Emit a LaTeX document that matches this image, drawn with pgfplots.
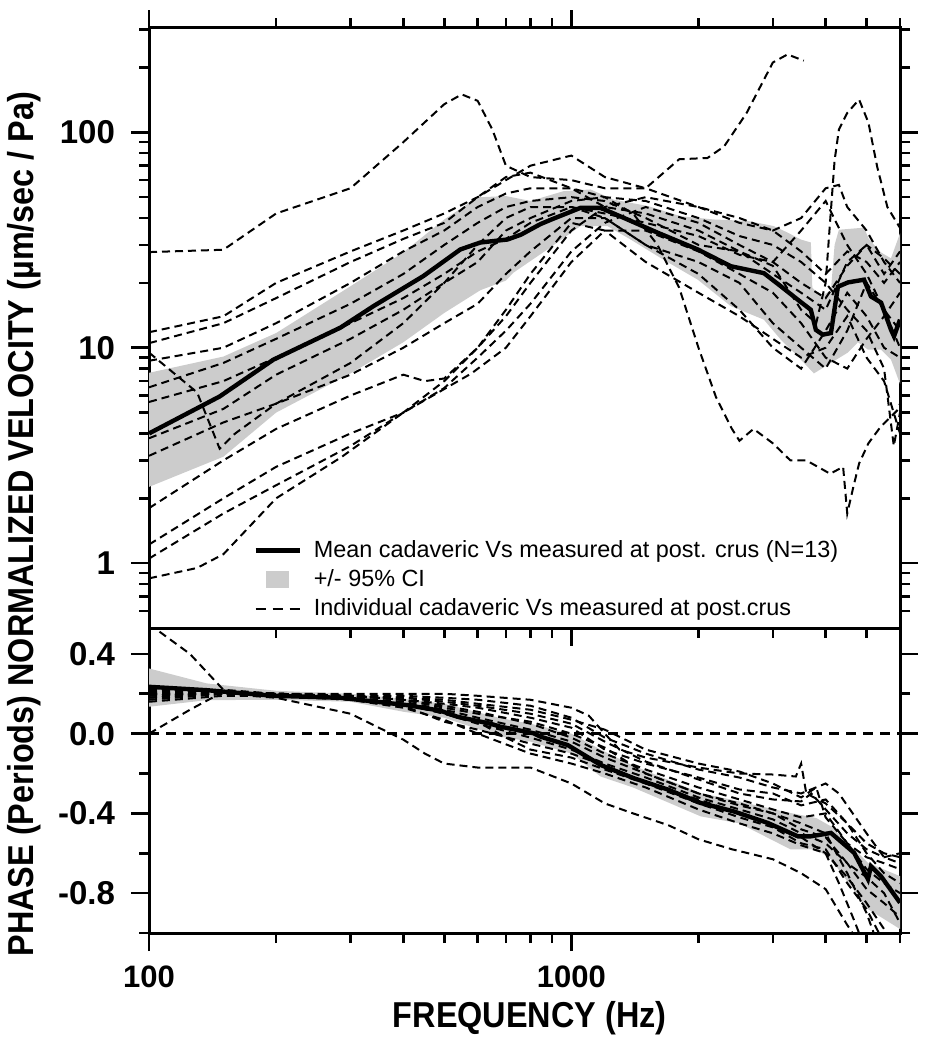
\documentclass[border=0pt]{standalone}
\usepackage{pgfplots}
\pgfplotsset{compat=1.18}
\usepackage{fontspec}
\setmainfont{Liberation Sans}
\newfontfamily\condfont[FakeStretch=0.9]{Liberation Sans}
\definecolor{cigray}{RGB}{204,204,204}

\pgfplotsset{
  indiv/.style={black, line width=1pt, dash pattern=on 4pt off 2.5pt, forget plot},
  meanline/.style={black, line width=2.2pt, forget plot},
  ciband/.style={fill=cigray, draw=none, forget plot},
  myaxis/.style={
    scale only axis, width=375.5pt,
    xmin=100, xmax=6000,
    axis line style={line width=1.5pt},
    every tick/.style={black, line width=1.3pt},
    major tick length=9pt, minor tick length=5pt,
    tick align=outside,
    xtick={100,1000},
    minor xtick={200,300,400,500,600,700,800,900,2000,3000,4000,5000,6000},
    ytick pos=both,
    yticklabel style={font=\fontsize{16.5}{19}\selectfont\bfseries, xshift=-4.5pt},
    xticklabel style={font=\fontsize{15.5}{18}\selectfont\bfseries, yshift=-4pt},
    label style={font=\fontsize{18}{21}\selectfont\condfont\bfseries},
  },
}

\begin{document}
\begin{tikzpicture}
% ---------------- top panel: velocity magnitude ----------------
\begin{axis}[myaxis, xmode=log, ymode=log, name=top, at={(0,0)}, anchor=south west, height=300pt,
  ymin=0.5, ymax=305,
  xtick pos=both, xticklabels={,},
  ytick={1,10,100}, yticklabels={1,10,100},
  minor ytick={0.6,0.7,0.8,0.9,2,3,4,5,6,7,8,9,20,30,40,50,60,70,80,90,200,300},
  ylabel={PHASE (Periods) NORMALIZED VELOCITY (\textmu m/sec / Pa)},
  ylabel style={at={(axis description cs:-0.1664,0.1733)}, anchor=center},
  legend cell align=left,
  legend style={at={(axis description cs:0.1385,0.0125)}, anchor=south west,
    draw=none, fill=none, inner sep=0pt, row sep=3pt, column sep=6pt,
    font=\fontsize{11.7}{14}\selectfont,
    nodes={inner sep=0pt, text height=9pt, text depth=2.5pt}},
]
\addlegendimage{legend image code/.code={\draw[black, line width=2.2pt] (0pt,0pt) -- (22pt,0pt);}}
\addlegendentry{Mean cadaveric Vs measured at post. crus (N=13)}
\addlegendimage{legend image code/.code={\fill[cigray] (5.5pt,-4pt) rectangle (16.5pt,4pt);}}
\addlegendentry{+/- 95\% CI}
\addlegendimage{legend image code/.code={\draw[black, line width=0.9pt, dash pattern=on 5pt off 3.5pt] (0pt,0pt) -- (22pt,0pt);}}
\addlegendentry{Individual cadaveric Vs measured at post.crus}

% CI band
\addplot[ciband] coordinates {
 (100,7.65) (150,9.1) (200,11.7) (300,19.3) (400,27.7) (500,39.4) (600,49.9) (700,50.6) (800,48.0) (958,53.3) (1110,54.3) (1259,48.7) (1516,45.5) (1815,40.8) (2174,39.4) (2616,38.8) (3016,36.7) (3255,34.2) (3494,31.8) (3691,30.8) (3720,19) (3898,17.3) (4117,18.5) (4200,30) (4300,35.3) (4929,36.1) (5061,32) (5408,27.7) (5712,26) (6000,34)
 (6000,6.8) (5712,8.8) (5408,9.8) (5038,9.8) (4770,10.6) (4516,9.5) (4117,8.5) (3752,7.6) (3439,9.1) (3133,10.9) (2856,13.5) (2385,15.6) (1992,20.7) (1654,25.6) (1381,31.8) (1218,36.7) (1051,36.7) (878,28.6) (729,22.3) (700,20.5) (609,18.5) (500,14.5) (400,10.6) (300,7.6) (200,5.0) (150,3.12) (100,2.26)
} --cycle;

% individual curves
\addplot[indiv] coordinates {(100,27.8) (150,28.5) (200,42) (300,55) (400,90) (500,135) (550,150) (600,140) (650,103) (700,70) (800,62) (1000,60) (1200,55) (1500,55) (2000,45) (2500,38) (3000,35) (3500,40) (4000,55) (4300,57) (4500,45) (5000,35) (5500,25) (6000,20)};
\addplot[indiv] coordinates {(100,11.8) (150,14) (200,20) (300,28) (400,35) (500,42) (600,50) (700,60) (800,70) (1000,78) (1200,62) (1500,55) (1800,75) (2100,76) (2300,86) (2600,123) (3000,211) (3250,230) (3550,215)};
\addplot[indiv] coordinates {(100,10.5) (150,13) (200,17) (300,25) (400,32) (500,38) (600,50) (700,62) (800,65) (1000,55) (1200,45) (1500,42) (2000,35) (2500,28) (3000,24) (3500,15) (3800,13) (4000,20) (4100,39) (4200,74) (4300,103) (4500,123) (4800,142) (5050,111) (5300,69) (5600,45) (6000,36)};
\addplot[indiv] coordinates {(100,8.7) (150,10) (200,13) (300,20) (400,28) (500,35) (600,45) (700,52) (800,55) (1000,55) (1200,50) (1400,42) (1600,30) (1800,19) (2000,10) (2200,5.9) (2400,4.2) (2500,3.7) (2700,4.2) (3000,3.6) (3300,3.0) (3600,3.0) (4100,2.6) (4400,2.8) (4500,1.7) (4650,2.25) (4800,2.9) (5050,3.6) (5400,4.3) (5900,5.1) (6000,5.5)};
\addplot[indiv] coordinates {(100,9.5) (130,6.2) (147,3.4) (160,4.0) (200,5.5) (300,8.5) (400,13) (500,20) (600,30) (700,40) (800,45) (1000,45) (1200,40) (1500,30) (2000,25) (2500,20) (3000,13) (3500,10) (4000,8) (4500,12) (5000,20) (5500,15) (6000,10)};
\addplot[indiv] coordinates {(100,6.55) (150,8.5) (200,11) (300,16) (400,22) (500,30) (600,38) (700,45) (800,48) (1000,50) (1200,48) (1500,40) (2000,30) (2500,28) (3000,22) (3500,18) (4000,15) (4500,25) (5000,30) (5500,22) (6000,28)};
\addplot[indiv] coordinates {(100,5.6) (150,7) (200,9) (300,13) (400,17) (500,22) (600,28) (700,32) (800,38) (1000,45) (1200,42) (1500,38) (2000,33) (2500,27) (3000,25) (3500,35) (4000,48) (4500,30) (5000,22) (5500,15) (6000,12)};
\addplot[indiv] coordinates {(100,3.15) (150,4.5) (200,5.5) (300,7.5) (400,10) (500,13) (600,16) (700,22) (800,28) (1000,40) (1200,40) (1500,30) (2000,22) (2500,15) (3000,10) (3500,8) (4000,12) (4500,18) (5000,14) (5500,10) (6000,9)};
\addplot[indiv] coordinates {(100,1.8) (150,3.0) (200,4.2) (300,6) (400,7.5) (450,7.0) (500,7.2) (600,10) (700,15) (800,22) (1000,38) (1200,35) (1500,25) (2000,18) (2500,14) (3000,11) (3500,9) (4000,10) (4500,14) (5000,9) (5500,7) (6000,4)};
\addplot[indiv] coordinates {(100,1.22) (150,2.0) (200,2.8) (300,4.0) (400,5.0) (500,7) (600,10) (700,14) (800,20) (1000,35) (1200,45) (1500,50) (2000,45) (2500,40) (3000,35) (3500,28) (4000,22) (4500,28) (5000,25) (5500,20) (6000,25)};
\addplot[indiv] coordinates {(100,1.05) (150,1.7) (200,2.3) (300,3.5) (400,5) (500,6.5) (600,9) (700,12) (800,16) (1000,28) (1200,38) (1500,45) (2000,38) (2500,30) (3000,25) (3500,20) (4000,17) (4500,24) (5000,30) (5500,26) (6000,22)};
\addplot[indiv] coordinates {(100,0.85) (130,0.95) (150,1.1) (200,2.0) (285,3.1) (400,5.0) (580,7.6) (700,10) (800,14) (1000,25) (1200,35) (1500,35) (2000,28) (2500,22) (3000,18) (3500,13) (4000,9) (4500,8) (5000,11) (5500,14) (6000,18)};
\addplot[indiv] coordinates {(100,3.8) (150,5.2) (200,7.5) (300,11) (400,15) (500,20) (600,25) (700,35) (800,40) (1000,48) (1200,50) (1500,48) (2000,40) (2500,33) (3000,30) (3500,25) (4000,20) (4500,15) (5000,12) (5500,8) (5800,3.5) (6000,5)};

% mean
\addplot[meanline] coordinates {
 (100,4.0) (147,5.94) (197,8.8) (284,12.4) (340,15.6) (446,21.5) (546,28.6) (609,30.8) (706,31.8) (760,33.5) (845,37.5) (900,39.5) (1051,44.6) (1173,44.6) (1330,40.1) (1601,34.2) (1992,28.6) (2385,23.9) (2856,22.2) (3133,19.3) (3438,16.7) (3690,15.0) (3793,12.1) (3940,11.5) (4117,11.7) (4276,19.2) (4517,20.1) (4931,20.7) (5121,17.3) (5411,16.2) (5714,12.1) (5806,11.3) (6000,13.5)};
\end{axis}

% ---------------- bottom panel: phase ----------------
\begin{axis}[myaxis, xmode=log, name=bot, at={(0,0)}, anchor=north west, height=152.5pt,
  ymin=-1.0, ymax=0.53,
  xtick pos=left, xticklabels={100,1000},
  ytick={-0.8,-0.4,0,0.4}, yticklabels={-0.8,-0.4,0.0,0.4},
  minor ytick={-1,-0.6,-0.2,0.2},
  xlabel={FREQUENCY (Hz)},
  xlabel style={at={(axis description cs:0.507,-0.279)}, anchor=center},
]
\addplot[ciband] coordinates {
 (100,0.327) (137,0.252) (200,0.215) (300,0.2) (400,0.175) (500,0.15) (679,0.078) (800,0.05) (1000,0.0) (1173,-0.08) (1400,-0.16) (2025,-0.298) (2500,-0.34) (3300,-0.398) (3800,-0.423) (4117,-0.465) (5038,-0.648) (6000,-0.715)
 (6000,-0.98) (5038,-0.88) (4117,-0.63) (3800,-0.58) (3300,-0.58) (2500,-0.45) (2025,-0.415) (1400,-0.27) (1173,-0.215) (1000,-0.1) (800,-0.04) (679,-0.015) (500,0.08) (400,0.11) (300,0.16) (200,0.17) (137,0.168) (100,0.135)
} --cycle;

\addplot[black, line width=1.4pt, dash pattern=on 5pt off 3.5pt, forget plot] coordinates {(100,0) (6000,0)};

\addplot[indiv] coordinates {(100,0.18) (150,0.21) (200,0.2) (300,0.2) (400,0.2) (500,0.2) (600,0.19) (800,0.17) (1000,0.13) (1100,0.09) (1200,0.0) (1300,-0.08) (1500,-0.12) (2000,-0.17) (2500,-0.2) (3000,-0.205) (3400,-0.215) (3500,-0.15) (3600,-0.3) (4000,-0.35) (4500,-0.45) (5000,-0.55) (5500,-0.6) (6000,-0.62)};
\addplot[indiv] coordinates {(100,0.55) (125,0.4) (150,0.22) (200,0.2) (300,0.19) (400,0.19) (500,0.18) (600,0.17) (800,0.14) (1000,0.08) (1200,-0.02) (1500,-0.1) (2000,-0.18) (2500,-0.22) (3000,-0.27) (3500,-0.3) (4000,-0.25) (4300,-0.3) (5000,-0.5) (5500,-0.62) (6000,-0.65)};
\addplot[indiv] coordinates {(100,0.0) (125,0.12) (150,0.21) (200,0.2) (300,0.19) (400,0.17) (500,0.15) (600,0.13) (800,0.08) (1000,0.03) (1200,-0.08) (1500,-0.15) (2000,-0.22) (2500,-0.28) (3000,-0.3) (3500,-0.36) (4000,-0.33) (4500,-0.45) (5000,-0.6) (5500,-0.7) (6000,-0.75)};
\addplot[indiv] coordinates {(100,0.2) (150,0.2) (200,0.18) (300,0.1) (350,0.03) (400,-0.03) (450,-0.1) (500,-0.15) (600,-0.17) (700,-0.17) (800,-0.17) (1000,-0.25) (1200,-0.35) (1400,-0.4) (1700,-0.46) (2000,-0.53) (2400,-0.58) (3000,-0.63) (3500,-0.7) (4000,-0.78) (4500,-0.96) (4800,-1.05)};
\addplot[indiv] coordinates {(100,0.17) (150,0.2) (200,0.19) (300,0.17) (400,0.14) (500,0.06) (600,0.02) (800,-0.05) (1000,-0.1) (1200,-0.16) (1500,-0.25) (2000,-0.35) (2500,-0.42) (3000,-0.47) (3500,-0.55) (4000,-0.58) (4500,-0.75) (5000,-0.88) (5500,-1.05)};
\addplot[indiv] coordinates {(100,0.19) (150,0.2) (200,0.19) (300,0.18) (400,0.16) (500,0.12) (600,0.08) (800,0.02) (1000,-0.04) (1200,-0.12) (1500,-0.2) (2000,-0.3) (2500,-0.36) (3000,-0.4) (3500,-0.45) (4000,-0.5) (4500,-0.7) (5000,-0.9) (5300,-1.05)};
\addplot[indiv] coordinates {(100,0.2) (150,0.2) (200,0.2) (300,0.19) (400,0.17) (500,0.14) (600,0.11) (800,0.05) (1000,-0.02) (1200,-0.1) (1500,-0.18) (2000,-0.27) (2500,-0.33) (3000,-0.38) (3500,-0.42) (4000,-0.4) (4500,-0.55) (5000,-0.62) (5500,-0.65) (6000,-0.68)};
\addplot[indiv] coordinates {(100,0.16) (150,0.19) (200,0.19) (300,0.18) (400,0.15) (500,0.1) (600,0.05) (800,-0.02) (1000,-0.08) (1200,-0.15) (1500,-0.22) (2000,-0.32) (2500,-0.38) (3000,-0.43) (3500,-0.5) (4000,-0.55) (4500,-0.65) (5000,-0.78) (5500,-0.85) (6000,-0.92)};
\addplot[indiv] coordinates {(100,0.18) (150,0.2) (200,0.19) (300,0.17) (400,0.13) (500,0.07) (600,0.0) (800,-0.1) (1000,-0.15) (1200,-0.2) (1500,-0.27) (2000,-0.38) (2500,-0.45) (3000,-0.5) (3500,-0.56) (4000,-0.6) (4300,-0.75) (4700,-0.95) (4900,-1.05)};
\addplot[indiv] coordinates {(100,0.2) (150,0.2) (200,0.2) (300,0.19) (400,0.18) (500,0.16) (600,0.14) (800,0.1) (1000,0.05) (1200,-0.04) (1500,-0.14) (2000,-0.23) (2500,-0.3) (3000,-0.33) (3500,-0.34) (3700,-0.3) (4000,-0.38) (4500,-0.5) (5000,-0.58) (5500,-0.62) (6000,-0.6)};
\addplot[indiv] coordinates {(100,0.21) (150,0.21) (200,0.2) (300,0.19) (400,0.17) (500,0.13) (600,0.1) (800,0.06) (1000,0.0) (1200,-0.07) (1500,-0.2) (2000,-0.3) (2500,-0.35) (3000,-0.4) (3500,-0.48) (4000,-0.52) (4500,-0.65) (5000,-0.72) (5500,-0.8) (6000,-0.95)};
\addplot[indiv] coordinates {(100,0.19) (150,0.21) (200,0.2) (300,0.18) (400,0.15) (500,0.1) (600,0.06) (700,-0.02) (800,-0.08) (1000,-0.12) (1200,-0.18) (1500,-0.25) (2000,-0.33) (2500,-0.4) (3000,-0.46) (3500,-0.52) (4000,-0.6) (4500,-0.72) (5000,-0.85) (5500,-0.98) (5700,-1.05)};
\addplot[indiv] coordinates {(100,0.22) (150,0.21) (200,0.2) (300,0.19) (400,0.18) (500,0.17) (600,0.15) (800,0.12) (1000,0.07) (1200,0.02) (1500,-0.08) (2000,-0.15) (2500,-0.19) (3000,-0.25) (3500,-0.32) (3800,-0.27) (4000,-0.42) (4500,-0.55) (5000,-0.68) (5500,-0.75) (6000,-0.8)};

\addplot[meanline] coordinates {
 (100,0.235) (137,0.218) (197,0.19) (284,0.18) (409,0.143) (490,0.115) (537,0.085) (643,0.05) (679,0.035) (814,0.002) (845,-0.015) (980,-0.057) (1173,-0.157) (1404,-0.223) (1691,-0.28) (2025,-0.348) (2424,-0.39) (2919,-0.448) (3439,-0.515) (3691,-0.515) (4117,-0.498) (4672,-0.598) (5038,-0.73) (5121,-0.665) (5408,-0.715) (6000,-0.848)};
\end{axis}
\pgfresetboundingbox
\path (-74.5pt,-211pt) rectangle (390.5pt,314pt);
\end{tikzpicture}
\end{document}
